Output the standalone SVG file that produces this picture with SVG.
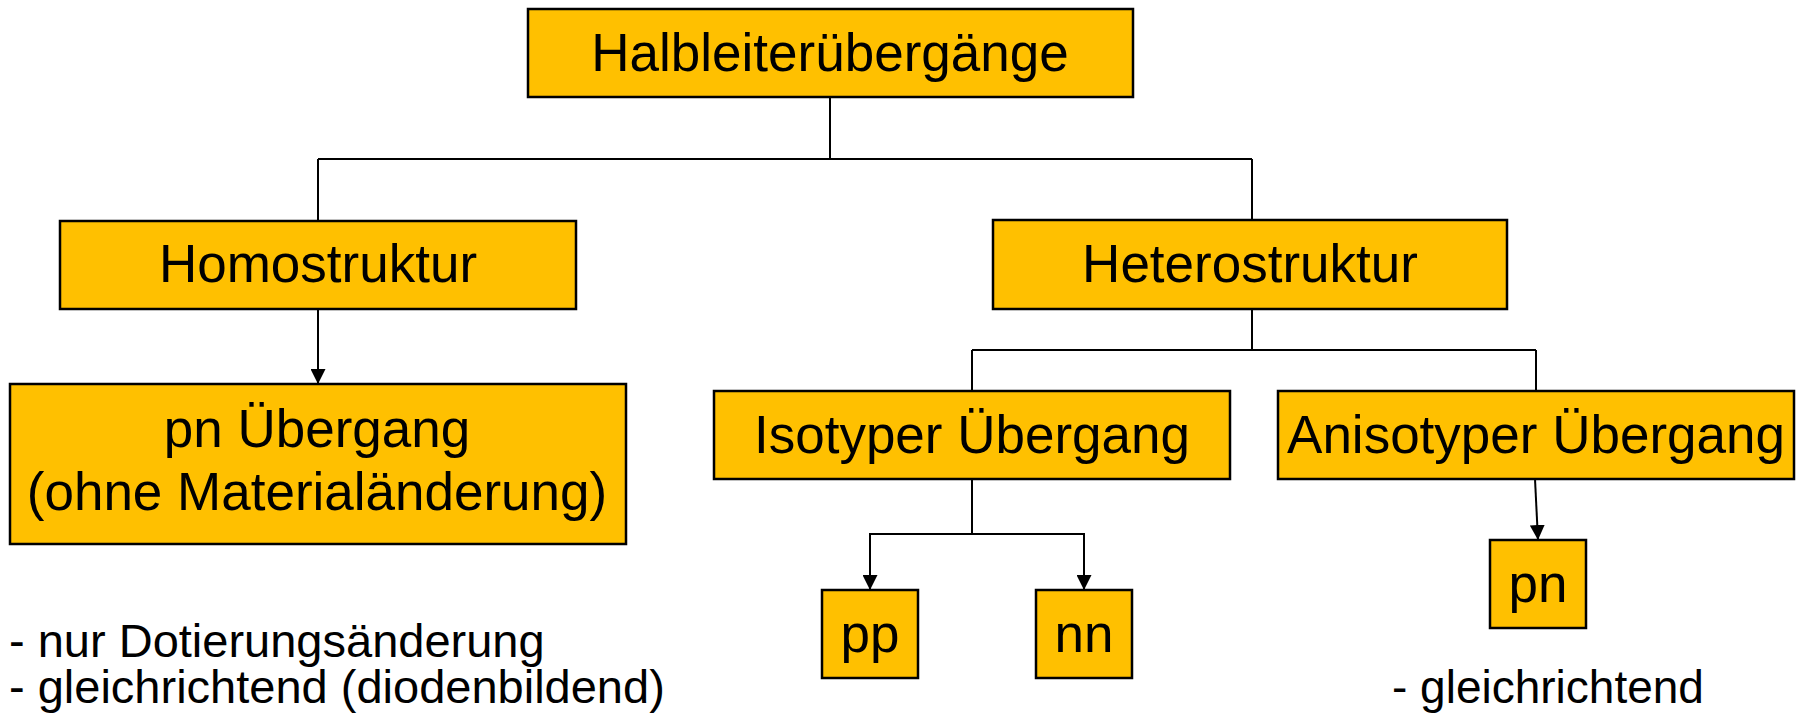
<svg xmlns="http://www.w3.org/2000/svg" width="1800" height="723" viewBox="0 0 1800 723">
<style>
.box{fill:#FFC000;stroke:#000;stroke-width:2.5}
.t{font-family:"Liberation Sans",Arial,sans-serif;font-size:53px;fill:#000;text-anchor:middle}
.n{font-family:"Liberation Sans",Arial,sans-serif;font-size:47px;fill:#000}
.c{fill:none;stroke:#000;stroke-width:2}
</style>
<defs>
<marker id="arr" markerUnits="userSpaceOnUse" markerWidth="15" markerHeight="15" refX="15" refY="7.5" orient="auto">
<path d="M0,0 L15,7.5 L0,15 z" fill="#000"/>
</marker>
</defs>
<rect width="1800" height="723" fill="#fff"/>
<g id="connectors">
<path class="c" d="M830,97 V159 M318,159 H1252 M318,159 V221 M1252,159 V220"/>
<path class="c" d="M318,309 V384" marker-end="url(#arr)"/>
<path class="c" d="M1252,309 V350 M972,350 H1536 M972,350 V391 M1536,350 V391"/>
<path class="c" d="M972,479 V534 H870 V590" marker-end="url(#arr)"/>
<path class="c" d="M972,534 H1084 V590" marker-end="url(#arr)"/>
<path class="c" d="M1535,479 L1538,540" marker-end="url(#arr)"/>
</g>
<g id="root"><rect class="box" x="528" y="9" width="605" height="88"/><text class="t" x="830" y="71">Halbleiterübergänge</text></g>
<g id="homo"><rect class="box" x="60" y="221" width="516" height="88"/><text class="t" x="318" y="282">Homostruktur</text></g>
<g id="hetero"><rect class="box" x="993" y="220" width="514" height="89"/><text class="t" x="1250" y="282">Heterostruktur</text></g>
<g id="pn1"><rect class="box" x="10" y="384" width="616" height="160"/><text class="t" x="317" y="447">pn Übergang</text><text class="t" x="317" y="510">(ohne Materialänderung)</text></g>
<g id="iso"><rect class="box" x="714" y="391" width="516" height="88"/><text class="t" x="972" y="453">Isotyper Übergang</text></g>
<g id="aniso"><rect class="box" x="1278" y="391" width="516" height="88"/><text class="t" x="1536" y="453">Anisotyper Übergang</text></g>
<g id="pp"><rect class="box" x="822" y="590" width="96" height="88"/><text class="t" x="870" y="652">pp</text></g>
<g id="nn"><rect class="box" x="1036" y="590" width="96" height="88"/><text class="t" x="1084" y="652">nn</text></g>
<g id="pn2"><rect class="box" x="1490" y="540" width="96" height="88"/><text class="t" x="1538" y="602">pn</text></g>
<g id="notes">
<text class="n" x="9" y="657">- nur Dotierungsänderung</text>
<text class="n" x="9" y="703">- gleichrichtend (diodenbildend)</text>
<text class="n" x="1392" y="703" style="font-size:46px">- gleichrichtend</text>
</g>
</svg>
